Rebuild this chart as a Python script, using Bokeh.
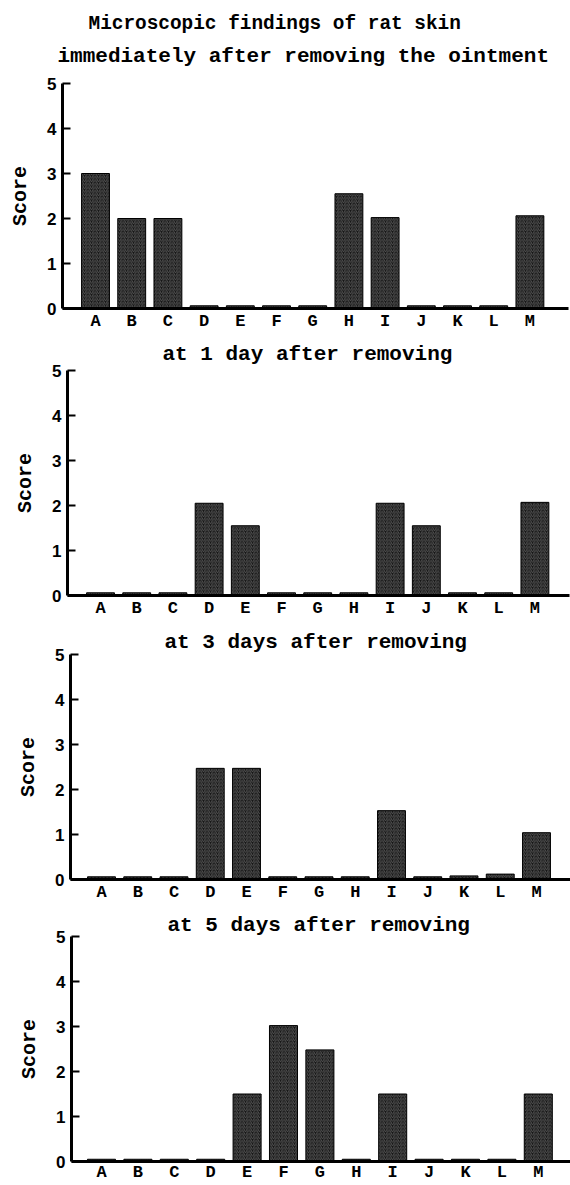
from bokeh.plotting import figure
from bokeh.layouts import column, row
from bokeh.models import Title, FixedTicker, Range1d
from bokeh.embed import file_html
from bokeh.resources import INLINE

# ---------------- data ----------------
categories = ["A", "B", "C", "D", "E", "F", "G", "H", "I", "J", "K", "L", "M"]
score_immediately = [3.0, 2.0, 2.0, 0.06, 0.06, 0.06, 0.06, 2.55, 2.02, 0.06, 0.06, 0.06, 2.06]
score_day1 = [0.06, 0.06, 0.06, 2.05, 1.55, 0.06, 0.06, 0.06, 2.05, 1.55, 0.06, 0.06, 2.07]
score_day3 = [0.06, 0.06, 0.06, 2.47, 2.47, 0.06, 0.06, 0.06, 1.53, 0.06, 0.08, 0.12, 1.04]
score_day5 = [0.05, 0.05, 0.05, 0.05, 1.50, 3.02, 2.48, 0.05, 1.50, 0.05, 0.05, 0.05, 1.50]
main_title = "Microscopic findings of rat skin"
panel_titles = ["immediately after removing the ointment",
                "at 1 day after removing",
                "at 3 days after removing",
                "at 5 days after removing"]
y_ticks = [0, 1, 2, 3, 4, 5]
y_label = "Score"

series = [score_immediately, score_day1, score_day3, score_day5]

# ---------------- layout (pixels) ----------------
# (border_top, border_left, border_bottom, border_right, x_start, px_per_unit,
#  title_left_offset, title_standoff, x_label_standoff)
layout_specs = [
    (83, 62, 27, 2, 0.088, 36.2, -5, 32, 3),
    (34, 67, 30, 1, 0.088, 36.2, 95, 10, 3),
    (29, 70, 29, 0, 0.145, 36.25, 94, 2, 3),
    (28, 71, 22, 0, 0.176, 36.4, 96, 0, 1),
]
TOTAL_W = 570
MONO = "Liberation Mono"
SANS = "Liberation Sans"

xs = list(range(1, len(categories) + 1))
figs = []
for i, (vals, spec) in enumerate(zip(series, layout_specs)):
    btop, bleft, bbot, bright, x0, ppu, toff, tstand, xstand = spec
    fw = TOTAL_W - bleft - bright
    x1 = x0 + fw / ppu
    p = figure(frame_width=fw, frame_height=225,
               x_range=Range1d(x0, x1), y_range=Range1d(0, 5),
               output_backend="svg", toolbar_location=None,
               min_border_top=btop, min_border_left=bleft,
               min_border_bottom=bbot, min_border_right=bright,
               title=None)
    p.outline_line_color = None
    p.grid.visible = False
    p.background_fill_color = "white"
    p.border_fill_color = "white"

    p.vbar(x=xs, top=vals, bottom=0, width=0.77,
           fill_color="#141414", line_color="black", line_width=1,
           hatch_pattern="/", hatch_color="#b0b0b0", hatch_alpha=0.7,
           hatch_scale=3.5, hatch_weight=0.6)

    # x axis
    xa = p.xaxis[0]
    xa.ticker = FixedTicker(ticks=xs)
    xa.major_label_overrides = {x: c for x, c in zip(xs, categories)}
    xa.major_tick_in = 0
    xa.major_tick_out = 0
    xa.minor_tick_in = 0
    xa.minor_tick_out = 0
    xa.axis_line_width = 3
    xa.axis_line_color = "black"
    xa.major_label_text_font = MONO
    xa.major_label_text_font_style = "bold"
    xa.major_label_text_font_size = "17px"
    xa.major_label_text_color = "black"
    xa.major_label_standoff = xstand

    # y axis
    ya = p.yaxis[0]
    ya.ticker = FixedTicker(ticks=y_ticks)
    ya.major_tick_in = 8
    ya.major_tick_out = 0
    ya.minor_tick_in = 0
    ya.minor_tick_out = 0
    ya.major_tick_line_width = 2
    ya.axis_line_width = 3
    ya.axis_line_color = "black"
    ya.major_label_text_font = SANS
    ya.major_label_text_font_style = "bold"
    ya.major_label_text_font_size = "17px"
    ya.major_label_text_color = "black"
    ya.major_label_standoff = 6
    ya.axis_label = y_label
    ya.axis_label_text_font = MONO
    ya.axis_label_text_font_style = "bold"
    ya.axis_label_text_font_size = "20px"
    ya.axis_label_text_color = "black"
    ya.axis_label_standoff = 12

    p.add_layout(Title(text=panel_titles[i], align="left", offset=toff,
                       text_font=MONO, text_font_style="bold",
                       text_font_size="21px", text_color="black",
                       standoff=tstand), "above")
    if i == 0:
        p.add_layout(Title(text=main_title, align="left", offset=26,
                           text_font=MONO, text_font_style="bold",
                           text_font_size="19.4px", text_color="black",
                           standoff=-16.5), "above")
    figs.append(p)

layout = column(*[row(f) for f in figs], spacing=0)
open("out.html", "w").write(file_html(layout, INLINE))
